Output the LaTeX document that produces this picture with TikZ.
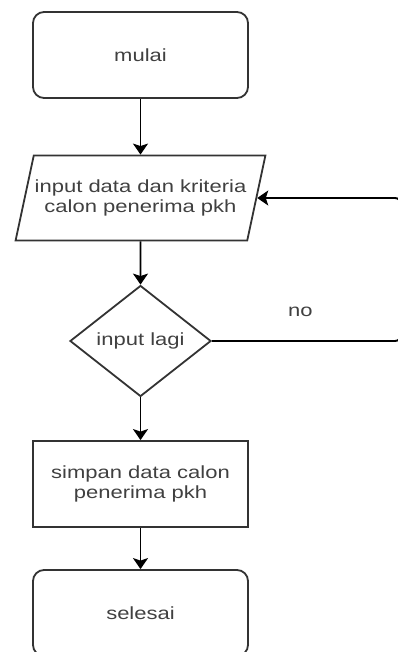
\documentclass[tikz,border=0pt]{standalone}
\usepackage{fontspec}
\usepackage{tikz}
\usetikzlibrary{shapes.geometric, arrows.meta}
\newfontfamily\flowfont[FakeStretch=1.25]{Liberation Sans}
\tikzstyle{startstop} = [rectangle, rounded corners=11pt, minimum width=215pt, minimum height=86pt, text centered, draw=black!80, line width=1.8pt]
\tikzstyle{io} = [trapezium, trapezium left angle=65, trapezium right angle=115, trapezium stretches=true, minimum width=250pt, minimum height=85pt, inner sep=1pt, text centered, align=center, draw=black!80, line width=1.8pt]
\tikzstyle{process} = [rectangle, minimum width=215pt, minimum height=86pt, text centered, align=center, draw=black!80, line width=1.8pt]
\tikzstyle{decision} = [diamond, minimum width=141pt, minimum height=111pt, inner sep=0pt, text centered, draw=black!80, line width=1.8pt]
\tikzstyle{arrow} = [line width=1.9pt, ->, >={Stealth[length=11pt, width=15pt, inset=2.5pt]}]

\begin{document}
\begin{tikzpicture}[node distance=143pt, font=\flowfont\fontsize{17.6pt}{20.6pt}\selectfont, text=black!75]
\useasboundingbox (0,0) rectangle (398pt,-652pt);
\clip (0,0) rectangle (398pt,-652pt);

\node (start) [startstop] at (140.5pt,-55pt) {mulai};
\node (io1) [io, below of=start] {input data dan kriteria\\calon penerima pkh};
\node (dec1) [decision, below of=io1] {input lagi};
\coordinate [right of=dec1, xshift=117.5pt] (turn);
\node (pro1) [process, below of=dec1] {simpan data calon\\penerima pkh};
\node (stop) [startstop, below of=pro1, yshift=14pt] {selesai};

\draw [arrow] (start) -- (io1);
\draw [arrow] (io1) -- (dec1);
\draw [arrow, rounded corners=6pt] (dec1) -- node[anchor=south, inner sep=0pt, yshift=23pt, xshift=-6pt] {no} (turn) |- (io1);
\draw [arrow] (dec1) -- (pro1);
\draw [arrow] (pro1) -- (stop);

\end{tikzpicture}
\end{document}
